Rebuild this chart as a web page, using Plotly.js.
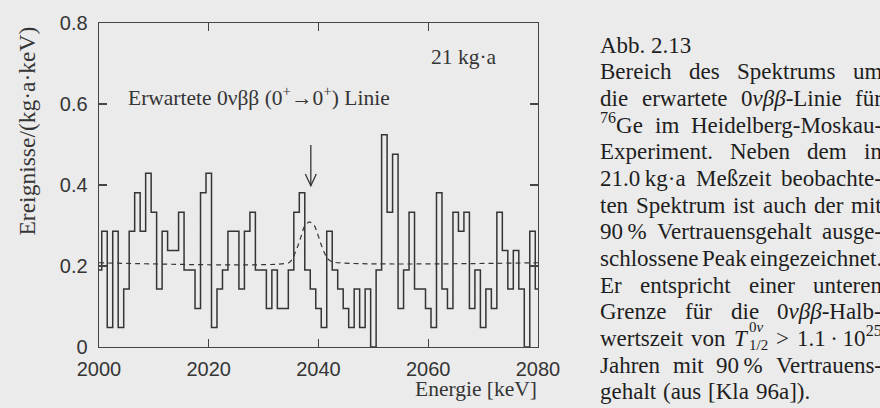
<!DOCTYPE html>
<html>
<head>
<meta charset="utf-8">
<script src="https://cdn.plot.ly/plotly-3.0.1.min.js"></script>
<style>
html,body{margin:0;padding:0;background:#ebebeb;}
#chart{width:880px;height:408px;}
</style>
</head>
<body>
<div id="chart"></div>
<script>
// ---------- data ----------
// bin centres, 1 keV bins
const energies = [
  2000,2001,2002,2003,2004,2005,2006,2007,2008,2009,
  2010,2011,2012,2013,2014,2015,2016,2017,2018,2019,
  2020,2021,2022,2023,2024,2025,2026,2027,2028,2029,
  2030,2031,2032,2033,2034,2035,2036,2037,2038,2039,
  2040,2041,2042,2043,2044,2045,2046,2047,2048,2049,
  2050,2051,2052,2053,2054,2055,2056,2057,2058,2059,
  2060,2061,2062,2063,2064,2065,2066,2067,2068,2069,
  2070,2071,2072,2073,2074,2075,2076,2077,2078,2079,
  2080
];
// events / (kg·a·keV)
const rates = [
  0.190,0.286,0.048,0.286,0.048,0.143,0.286,0.381,0.286,0.429,
  0.333,0.143,0.286,0.238,0.238,0.333,0.190,0.190,0.095,0.381,
  0.429,0.048,0.143,0.190,0.286,0.286,0.143,0.286,0.333,0.190,
  0.190,0.095,0.190,0.095,0.095,0.190,0.333,0.381,0.190,0.143,
  0.095,0.048,0.286,0.190,0.143,0.095,0.048,0.143,0.048,0.143,
  0.000,0.190,0.524,0.333,0.476,0.095,0.190,0.333,0.143,0.143,
  0.095,0.048,0.381,0.143,0.095,0.333,0.286,0.333,0.095,0.190,
  0.048,0.143,0.095,0.333,0.238,0.143,0.238,0.143,0.000,0.286,
  0.143
];
// dashed curve: background plus excluded peak (90% C.L.)
const peakX = [2000,2034.6,2035.3,2036.2,2036.8,2037.4,2038.3,2039.2,2039.8,2040.4,2041.0,2041.6,2042.5,2080];
const peakY = [0.208,0.208,0.219,0.248,0.272,0.297,0.309,0.301,0.281,0.256,0.235,0.219,0.210,0.208];
// arrow marking the expected line
const arrowE = 2038.6;
const arrowFrom = 0.499;
const arrowTo = 0.398;

const xTicks = [2000,2020,2040,2060,2080];
const yTicks = [0,0.2,0.4,0.6,0.8];
const yTickText = ['0','0.2','0.4','0.6','0.8'];

// caption paragraph lines (justified in the book; cut at the picture edge)
const captionTitle = 'Abb. 2.13';
const captionLines = [
  ['Bereich','des','Spektrums','um'],
  ['die','erwartete','0<i>νββ</i>-Linie','für'],
  ['<sup>76</sup>Ge','im','Heidelberg-Moskau-'],
  ['Experiment.','Neben','dem','in'],
  ['21.0\u2009kg·a','Meßzeit','beobachte-'],
  ['ten','Spektrum','ist','auch','der','mit'],
  ['90\u2009%','Vertrauensgehalt','ausge-'],
  ['schlossene','Peak','eingezeichnet.'],
  ['Er','entspricht','einer','unteren'],
  ['Grenze','für','die','0<i>νββ</i>-Halb-'],
  ['wertszeit','von',{t:'<i>T</i>', sup:'0<i>ν</i>', sub:'1/2'},'>','1.1\u2009·\u200910<sup>25</sup>'],
  ['Jahren','mit','90\u2009%','Vertrauens-'],
  ['gehalt','(aus','[Kla','96a]).']
];

// ---------- layout helpers ----------
const ML=99, MR=342, MT=23, MB=61, FW=880, FH=408;
const PW=FW-ML-MR, PH=FH-MT-MB;
const px = v => (v-ML)/PW;          // pixel x -> paper
const py = v => (FH-MB-v)/PH;       // pixel y -> paper
const ink = '#353535';
const serif = 'Liberation Serif, Times New Roman, serif';

const traces = [
  {
    x: peakX, y: peakY, type:'scatter', mode:'lines',
    line:{color:ink, width:1.2, dash:'5px,4px', shape:'spline', smoothing:0.6},
    hoverinfo:'skip', showlegend:false
  },
  {
    x: energies, y: rates, type:'scatter', mode:'lines',
    line:{color:ink, width:1.5, shape:'hvh'},
    showlegend:false
  }
];

const axisCommon = {
  ticks:'inside', ticklen:8, tickwidth:1.3, tickcolor:'#444',
  showline:true, linecolor:'#444', linewidth:1.4, mirror:'ticks',
  showgrid:false, zeroline:false,
  tickfont:{family:'Liberation Sans, Arial, sans-serif', size:20, color:ink}
};

const annotations = [
  {xref:'paper', yref:'paper', x:px(128), y:py(109.6), xanchor:'left', yanchor:'bottom',
   text:'Erwartete 0νββ (0<sup>+</sup>→0<sup>+</sup>) Linie', showarrow:false,
   font:{family:serif, size:21.5, color:ink}, borderpad:0, borderwidth:0},
  {xref:'paper', yref:'paper', x:px(431), y:py(68.6), xanchor:'left', yanchor:'bottom',
   text:'21 kg·a', showarrow:false,
   font:{family:serif, size:21.5, color:ink}, borderpad:0, borderwidth:0},
  {xref:'paper', yref:'paper', x:px(537), y:py(400.6), xanchor:'right', yanchor:'bottom',
   text:'Energie [keV]', showarrow:false,
   font:{family:serif, size:21.5, color:ink}, borderpad:0, borderwidth:0},
  {xref:'paper', yref:'paper', x:px(26), y:py(131.5), xanchor:'center', yanchor:'middle',
   text:'Ereignisse/(kg·a·keV)', textangle:-90, showarrow:false,
   font:{family:serif, size:23.5, color:ink}, borderpad:0, borderwidth:0}
];

// ---------- caption typesetting (justified like the book) ----------
const capSize = 23, scriptSize = 15, capInk = '#1e1e1e';
const capLeft = 600, capRight = 882, capFirstBase = 52.7, capLead = 26.66;
const ctx = document.createElement('canvas').getContext('2d');
function measure(html, size){
  let w = 0, italic = false, sup = false;
  html.split(/(<\/?i>|<\/?sup>|<\/?sub>)/).forEach(p => {
    if (p === '<i>') italic = true; else if (p === '</i>') italic = false;
    else if (p === '<sup>' || p === '<sub>') sup = true;
    else if (p === '</sup>' || p === '</sub>') sup = false;
    else if (p) {
      const s = sup ? size*0.7 : size;
      ctx.font = (italic ? 'italic ' : '') + s + 'px "Liberation Serif"';
      w += ctx.measureText(p).width;
    }
  });
  return w;
}
function capAnn(x, base, text, size){
  return {xref:'paper', yref:'paper', x:px(x), y:py(base + 0.216*size),
    xanchor:'left', yanchor:'bottom', text:text, showarrow:false,
    font:{family:serif, size:size, color:capInk}, borderpad:0, borderwidth:0};
}
annotations.push(capAnn(capLeft, capFirstBase, captionTitle, capSize));
captionLines.forEach((words, li) => {
  const base = capFirstBase + capLead*(li+1);
  const widths = words.map(w => typeof w === 'string' ? measure(w, capSize)
    : measure(w.t, capSize) + 2 + Math.max(measure(w.sup, scriptSize), measure(w.sub, scriptSize)));
  const total = widths.reduce((a,b)=>a+b, 0);
  const last = li === captionLines.length-1;
  const gap = last ? 0.3*capSize : (capRight - capLeft - total)/(words.length-1);
  let x = capLeft;
  words.forEach((w, i) => {
    if (typeof w === 'string') {
      annotations.push(capAnn(x, base, w, capSize));
    } else {
      annotations.push(capAnn(x, base, w.t, capSize));
      const sx = x + measure(w.t, capSize) + 2;
      annotations.push(capAnn(sx, base - 14, w.sup, scriptSize));
      annotations.push(capAnn(sx, base + 4, w.sub, scriptSize));
    }
    x += widths[i] + gap;
  });
});

const shapes = [
  {type:'line', xref:'x', yref:'y', x0:arrowE, x1:arrowE, y0:arrowFrom, y1:arrowTo,
   line:{color:ink, width:1.3}},
  {type:'path', xref:'x', yref:'y',
   path:`M ${arrowE-1.0},${arrowTo+0.029} L ${arrowE},${arrowTo} L ${arrowE+1.0},${arrowTo+0.029}`,
   line:{color:ink, width:1.3}}
];

const layout = {
  width:FW, height:FH,
  margin:{l:ML, r:MR, t:MT, b:MB, pad:0},
  paper_bgcolor:'#ebebeb', plot_bgcolor:'#ebebeb',
  xaxis:Object.assign({}, axisCommon, {range:[2000,2080], tickvals:xTicks, ticklabelstandoff:4}),
  yaxis:Object.assign({}, axisCommon, {range:[0,0.8], tickvals:yTicks, ticktext:yTickText, ticklabelstandoff:6}),
  annotations:annotations,
  shapes:shapes,
  showlegend:false
};

Plotly.newPlot('chart', traces, layout, {staticPlot:true, displayModeBar:false});
</script>
</body>
</html>
